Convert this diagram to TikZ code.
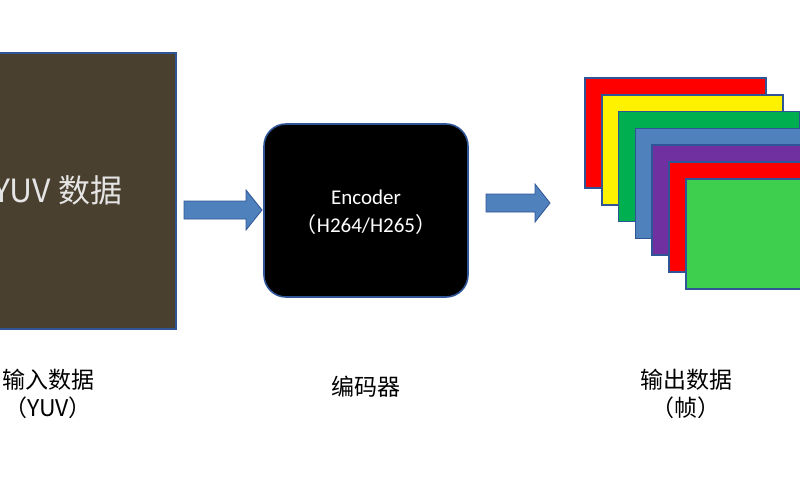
\documentclass[tikz,border=0pt]{standalone}
\usepackage{fontspec}
\setmainfont{Carlito}
\newfontfamily\cjk{Noto Sans CJK SC}
\usetikzlibrary{positioning}
\definecolor{edgeblue}{HTML}{2F5597}
\definecolor{arrowblue}{HTML}{4F81BD}
\definecolor{olivebox}{HTML}{4A4030}
\definecolor{framegreen}{HTML}{3FCF4F}
\definecolor{darkgreen}{HTML}{00B050}
\definecolor{purpleframe}{HTML}{7030A0}
\tikzset{
  frame/.style={draw=edgeblue,line width=1.6pt},
  blockarrow/.style={fill=arrowblue,draw=edgeblue,line width=0.8pt},
  caption/.style={font=\cjk\fontsize{23}{28}\selectfont,align=center,text=black}
}
\begin{document}
\begin{tikzpicture}[x=1pt,y=-1pt]
\useasboundingbox (0,0) rectangle (800,500);

    % input data
    \draw[frame,fill=olivebox] (-20,53) rectangle (176,329);
    \node[text=white!90!black,font=\cjk\fontsize{32}{36}\selectfont,anchor=east] (yuv) at (126,190) {YUV 数据};

    % first arrow
    \draw[blockarrow] (184,201) -- (246,201) -- (246,190) -- (262,210) -- (246,230) -- (246,219) -- (184,219) -- cycle;

    % encoder
    \draw[frame,fill=black,rounded corners=22pt] (264,124) rectangle (468,297);
    \node[text=white,font=\fontsize{21}{28}\selectfont,align=center] (enc) at (366,212) {Encoder\\{\cjk （}H264/H265{\cjk ）}};

    % second arrow
    \draw[blockarrow] (486,194) -- (535,194) -- (535,184) -- (550,203) -- (535,222) -- (535,212) -- (486,212) -- cycle;

    % output frames
    \foreach \c [count=\i from 0] in {red,yellow,darkgreen,arrowblue,purpleframe,red,framegreen}
      \draw[frame,fill=\c] (585+16.8*\i,78+16.8*\i) rectangle ++(181,110);

    % captions
    \node[caption] (inlbl) at (48,394) {输入数据\\（YUV）};
    \node[caption] (enclbl) at (366,387) {编码器};
    \node[caption] (outlbl) at (686,394) {输出数据\\（帧）};
\end{tikzpicture}
\end{document}
